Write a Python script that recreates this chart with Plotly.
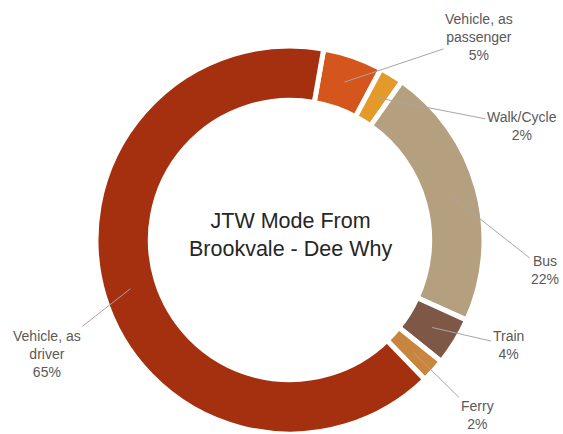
import math
import plotly.graph_objects as go

# ---- data ----
modes = ["Vehicle, as passenger", "Walk/Cycle", "Bus", "Train", "Ferry", "Vehicle, as driver"]
label_text = ["Vehicle, as<br>passenger", "Walk/Cycle", "Bus", "Train", "Ferry", "Vehicle, as<br>driver"]
shares = [5, 2, 22, 4, 2, 65]
colors = ["#D4561C", "#E39A2B", "#B4A07F", "#7E5747", "#C8853F", "#A5300F"]
title_text = "JTW Mode From<br>Brookvale - Dee Why"

# ---- layout / positions (pixels) ----
W, H = 563, 434
CX, CY, R = 290, 240, 194
HOLE = 0.72
ROT = 10
label_pos = [(479, 37), (522, 126), (545, 270), (508, 345), (477, 415), (47, 354)]
ANCHOR_R = 167


def px_x(x):
    return x / W


def px_y(y):
    return 1 - y / H


fig = go.Figure(go.Pie(
    labels=modes,
    values=shares,
    sort=False,
    direction="clockwise",
    rotation=ROT,
    hole=HOLE,
    marker=dict(colors=colors, line=dict(color="white", width=5)),
    textinfo="none",
    hoverinfo="label+percent",
    domain=dict(x=[px_x(CX - R), px_x(CX + R)], y=[px_y(CY + R), px_y(CY - R)]),
    showlegend=False,
))

annotations = []
total = sum(shares)
cum = 0
for name, txt, v, (lx, ly) in zip(modes, label_text, shares, label_pos):
    mid = ROT + (cum + v / 2) / total * 360
    cum += v
    a = math.radians(mid)
    hx = CX + ANCHOR_R * math.sin(a)
    hy = CY - ANCHOR_R * math.cos(a)
    annotations.append(dict(
        x=px_x(hx), y=px_y(hy), xref="paper", yref="paper",
        ax=lx - hx, ay=ly - hy, axref="pixel", ayref="pixel",
        text=f"{txt}<br>{v}%", showarrow=True, arrowhead=0, arrowwidth=1,
        arrowcolor="#A6A6A6", standoff=0,
        font=dict(family="Liberation Sans, Arial", size=14, color="#595959"),
        align="center",
    ))

annotations.append(dict(
    x=px_x(CX), y=px_y(235), xref="paper", yref="paper",
    text=title_text, showarrow=False,
    font=dict(family="Liberation Sans, Arial", size=21.5, color="#262626"),
    align="center",
))

fig.update_layout(
    width=W, height=H,
    margin=dict(l=0, r=0, t=0, b=0),
    paper_bgcolor="white", plot_bgcolor="white",
    annotations=annotations,
)

fig.write_html("out.html")
